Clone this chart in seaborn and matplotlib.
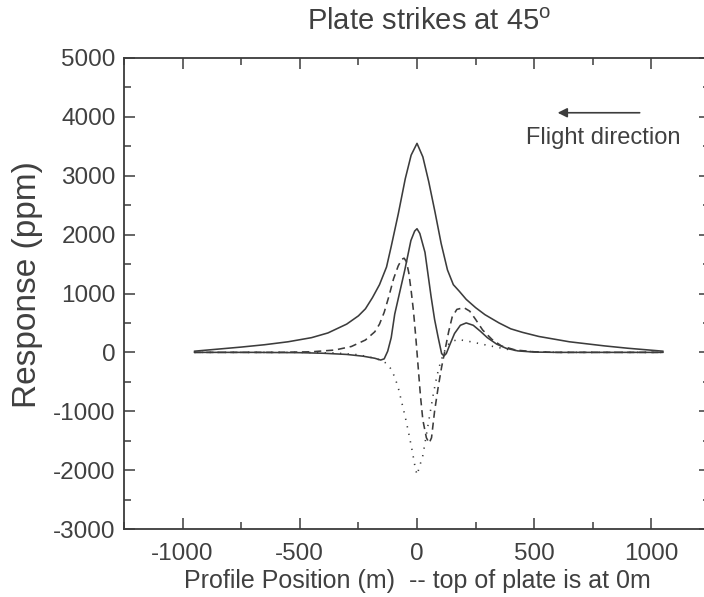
# Plate response profiles, strike at 45 degrees
import matplotlib
matplotlib.use("Agg")
import matplotlib.pyplot as plt
import seaborn as sns

# profile positions (m) and responses (ppm)
upper_x = [-950, -850, -750, -650, -550, -450, -380, -300, -250, -220, -190,
           -160, -130, -110, -80, -50, -25, 0, 25, 50, 77, 103, 130, 155,
           180, 210, 250, 290, 350, 400, 450, 520, 650, 800, 900, 1050]
upper_y = [20, 55, 90, 130, 180, 250, 330, 480, 620, 740, 930,
           1150, 1450, 1800, 2350, 2950, 3350, 3550, 3320, 2900, 2380, 1850,
           1400, 1150, 1040, 900, 760, 640, 500, 400, 340, 270, 180, 110, 70, 20]

lower_x = [-950, -700, -500, -400, -300, -230, -180, -155, -140, -125, -110,
           -95, -75, -52, -26, -10, 0, 12, 34, 60, 75, 90, 105, 115, 125, 140,
           160, 185, 210, 240, 270, 300, 340, 380, 430, 500, 600, 1050]
lower_y = [0, 0, -5, -15, -35, -65, -100, -130, -110, 20, 250,
           650, 1000, 1400, 1900, 2060, 2100, 2020, 1700, 950, 560, 260, -20,
           -60, -20, 130, 320, 460, 500, 460, 360, 250, 140, 70, 25, 5, 0, 0]

dashed_x = [-950, -600, -450, -350, -280, -220, -180, -160, -140, -120, -100,
            -80, -65, -55, -45, -35, -25, -15, -5, 5, 15, 25, 40, 52, 62, 75,
            90, 105, 120, 135, 150, 170, 200, 225, 250, 280, 320, 360, 420,
            500, 600, 1050]
dashed_y = [0, 0, 10, 40, 100, 210, 350, 480, 680, 950, 1250,
            1470, 1580, 1600, 1540, 1350, 1050, 700, 250, -250, -750, -1150,
            -1450, -1540, -1450, -1000, -600, -250, 50, 350, 600, 730, 760,
            700, 560, 380, 220, 110, 40, 10, 0, 0]

dotted_x = [-950, -500, -350, -250, -180, -150, -125, -110, -95, -80, -65,
            -50, -35, -20, -8, 0, 10, 25, 40, 55, 70, 85, 100, 115, 130, 145,
            175, 230, 300, 400, 500, 600, 1050]
dotted_y = [0, 0, -10, -40, -100, -140, -200, -290, -420, -600, -850,
            -1100, -1380, -1680, -1950, -2080, -1950, -1750, -1400, -1050,
            -700, -400, -170, 0, 120, 180, 220, 180, 120, 40, 10, 0, 0]

x_ticks = [-1000, -500, 0, 500, 1000]
y_ticks = [-3000, -2000, -1000, 0, 1000, 2000, 3000, 4000, 5000]

sns.set_theme(style="ticks")
plt.rcParams["font.family"] = ["Liberation Sans", "DejaVu Sans"]
plt.rcParams["mathtext.fontset"] = "custom"
plt.rcParams["mathtext.rm"] = "Liberation Sans"
plt.rcParams["axes.unicode_minus"] = False

ink = "#3c3c3c"
txt = "#404040"

fig = plt.figure(figsize=(7.04, 5.97), dpi=100)
ax = fig.add_axes([124 / 704, 68 / 597, 586 / 704, 471 / 597])

lw = 1.15
sns.lineplot(x=upper_x, y=upper_y, ax=ax, color=ink, lw=lw, sort=False)
sns.lineplot(x=lower_x, y=lower_y, ax=ax, color=ink, lw=lw, sort=False)
sns.lineplot(x=dashed_x, y=dashed_y, ax=ax, color=ink, lw=lw, sort=False,
             linestyle=(0, (4.5, 3)))
sns.lineplot(x=dotted_x, y=dotted_y, ax=ax, color=ink, lw=lw, sort=False,
             linestyle=(0, (0.8, 4)))

ax.set_xlim(-1250, 1250)
ax.set_ylim(-3000, 5000)
ax.set_xticks(x_ticks)
ax.set_xticks([-1250, -750, -250, 250, 750, 1250], minor=True)
ax.set_yticks(y_ticks)
ax.set_yticks([-2500, -1500, -500, 500, 1500, 2500, 3500, 4500], minor=True)
ax.tick_params(which="both", direction="in", top=True, right=True,
               color=ink, width=1.1, labelsize=17.5, labelcolor=txt, pad=6)
ax.tick_params(axis="x", which="both", pad=10)
ax.tick_params(which="major", length=8)
ax.tick_params(which="minor", length=5)
for s in ax.spines.values():
    s.set_color(ink)
    s.set_linewidth(1.3)

ax.set_xlabel("Profile Position (m)  -- top of plate is at 0m",
              fontsize=18, color=txt, labelpad=3)
ax.set_ylabel("Response (ppm)", fontsize=24, color=txt)
ax.yaxis.set_label_coords(-0.138, 0.52)
ax.set_title("Plate strikes at 45$^\\mathrm{o}$", fontsize=21, color=txt,
             pad=20, x=0.52)

ax.annotate("", xy=(600, 4070), xytext=(950, 4070),
            arrowprops=dict(arrowstyle="-|>", color=ink, lw=1.2,
                            mutation_scale=14, shrinkA=0, shrinkB=0))
ax.text(795, 3640, "Flight direction", fontsize=17, color=txt,
        ha="center", va="center")

fig.savefig("out.png", dpi=100)
